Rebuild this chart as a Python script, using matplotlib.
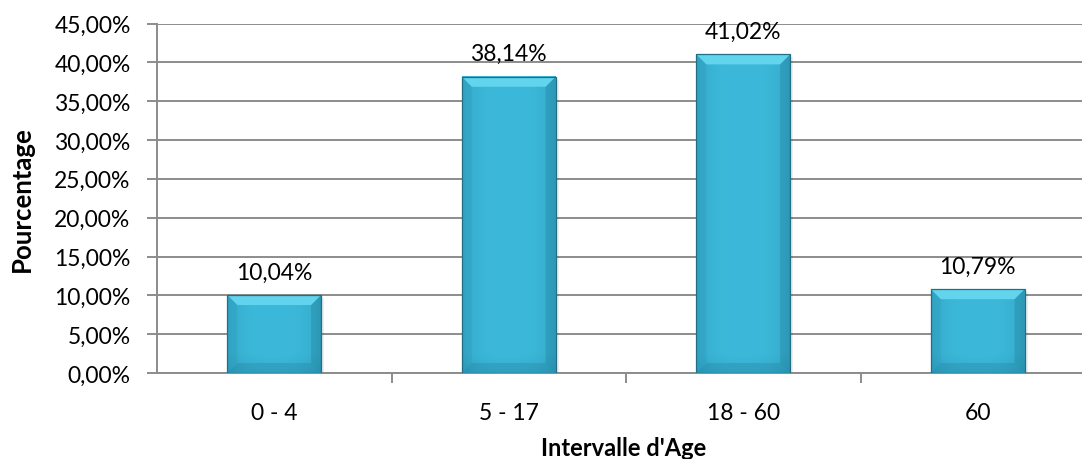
import numpy as np
import matplotlib
matplotlib.use("Agg")
import matplotlib.pyplot as plt
from matplotlib.patches import Polygon, Rectangle

categories = ["0 - 4", "5 - 17", "18 - 60", "60"]
values = [10.04, 38.14, 41.02, 10.79]
value_labels = ["10,04%", "38,14%", "41,02%", "10,79%"]
y_ticks = [0, 5, 10, 15, 20, 25, 30, 35, 40, 45]
y_tick_labels = ["0,00%", "5,00%", "10,00%", "15,00%", "20,00%", "25,00%",
                 "30,00%", "35,00%", "40,00%", "45,00%"]

plt.rcParams["font.family"] = ["Lato", "DejaVu Sans"]

W, H = 1082, 460
AX_L, AX_R, AX_B, AX_T = 157, 1095, 374, 24.5
fig = plt.figure(figsize=(W / 100, H / 100), dpi=100)
ax = fig.add_axes([AX_L / W, (H - AX_B) / H, (AX_R - AX_L) / W, (AX_B - AX_T) / H])

x = np.arange(len(categories))
bar_w = 0.40
ax.set_xlim(-0.5, len(categories) - 0.5)
ax.set_ylim(0, 45)

grid_c = "#8c8c8c"
ax.set_yticks(y_ticks)
ax.set_yticklabels(y_tick_labels)
ax.yaxis.grid(True, color=grid_c, linewidth=1.4)
ax.set_axisbelow(True)
ax.set_xticks(x)
ax.set_xticklabels(categories)
ax.set_xticks(np.arange(0.5, len(categories) - 0.5, 1.0), minor=True)
ax.tick_params(axis="x", which="major", length=0, pad=21, labelsize=16.5)
ax.tick_params(axis="x", which="minor", length=7, color=grid_c, width=1.4)
ax.tick_params(axis="y", length=7, color=grid_c, width=1.4, pad=12, labelsize=16.5)
for s in ["top", "right"]:
    ax.spines[s].set_visible(False)
for s in ["left", "bottom"]:
    ax.spines[s].set_color(grid_c)
    ax.spines[s].set_linewidth(1.4)

# pixel scale of the data axes, used to keep the bevel square on screen
px_per_x = (AX_R - AX_L) / len(categories)
px_per_y = (AX_B - AX_T) / 45.0

base = np.array([0x3c, 0xb9, 0xda]) / 255.0
edge = np.array([0x2c, 0x98, 0xb8]) / 255.0

for xi, v in zip(x, values):
    x0, x1 = xi - bar_w / 2, xi + bar_w / 2
    h_px = max(int(v * px_per_y), 2)
    w_px = int(bar_w * px_per_x)
    # shading: slightly darker towards the side edges and the foot
    u = np.linspace(-1, 1, w_px)
    horiz = np.abs(u) ** 3
    t = np.linspace(0, 1, h_px)[:, None]  # 0 at top, 1 at bottom
    foot = np.clip((t * h_px - (h_px - 20)) / 20, 0, 1) * 0.35
    mix = np.clip(horiz[None, :] * 0.55 + foot, 0, 1)[..., None]
    img = base * (1 - mix) + edge * mix
    # soft shadow
    ax.add_patch(Rectangle((x0 + 3 / px_per_x, -3 / px_per_y), bar_w, v,
                           facecolor="#000000", alpha=0.07, edgecolor="none",
                           zorder=2))
    ax.imshow(img, extent=(x0, x1, 0, v), aspect="auto", zorder=3,
              interpolation="bilinear")
    bx = 10 / px_per_x
    by = 10 / px_per_y
    ax.add_patch(Polygon([(x0, v), (x1, v), (x1 - bx, v - by), (x0 + bx, v - by)],
                         closed=True, facecolor="#62d4ee", edgecolor="none",
                         zorder=4))
    ax.add_patch(Polygon([(x0, 0), (x1, 0), (x1 - bx, by), (x0 + bx, by)],
                         closed=True, facecolor="#1f7891", edgecolor="none",
                         alpha=0.25, zorder=4))
    ax.add_patch(Polygon([(x1, 0), (x1, v), (x1 - bx, v - by), (x1 - bx, by)],
                         closed=True, facecolor="#1f7891", edgecolor="none",
                         alpha=0.3, zorder=4))
    ax.add_patch(Polygon([(x0, 0), (x0, v), (x0 + bx, v - by), (x0 + bx, by)],
                         closed=True, facecolor="#2a8eab", edgecolor="none",
                         alpha=0.2, zorder=4))
    ax.add_patch(Rectangle((x0, 0), bar_w, v, facecolor="none",
                           edgecolor="#226f84", linewidth=0.9, zorder=5))

for xi, v, lab in zip(x, values, value_labels):
    ax.annotate(lab, (xi, v), xytext=(0, 9), textcoords="offset points",
                ha="center", va="bottom", fontsize=16.5, color="#000000")

ax.set_ylabel("Pourcentage", fontsize=18.5, fontweight="bold")
ax.yaxis.set_label_coords(-((AX_L - 34) / (AX_R - AX_L)), 0.5)
fig.text(624 / W, (H - 456) / H, "Intervalle d'Age", ha="center",
         va="baseline", fontsize=17, fontweight="bold")

fig.savefig("out.png", dpi=100)
